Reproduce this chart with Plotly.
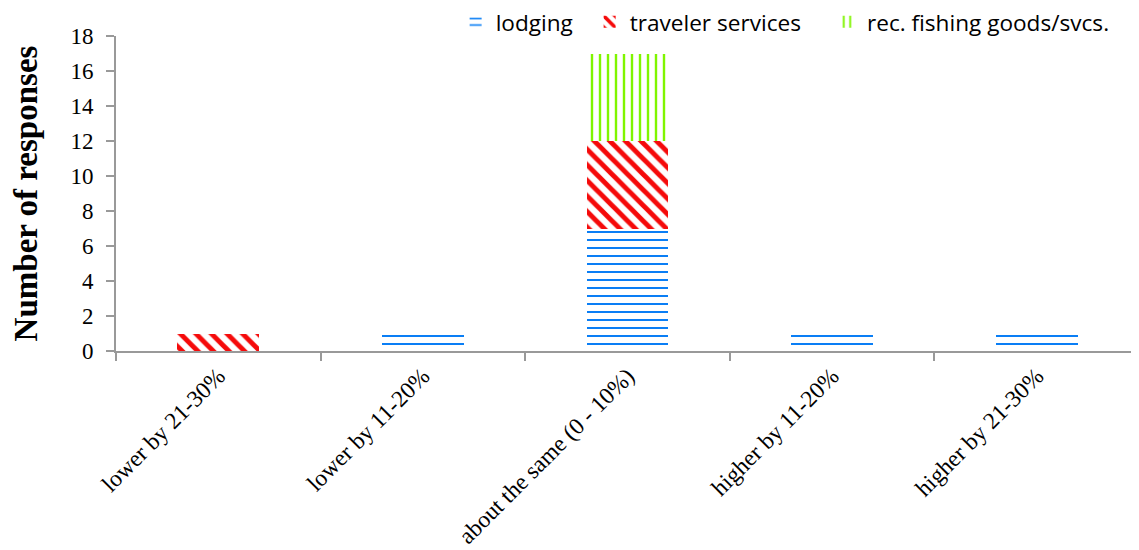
import plotly.graph_objects as go

categories = ["lower by 21-30%", "lower by 11-20%", "about the same (0 - 10%)",
              "higher by 11-20%", "higher by 21-30%"]
lodging = [0, 1, 7, 1, 1]
traveler = [1, 0, 5, 0, 0]
fishing = [0, 0, 5, 0, 0]
y_ticks = [0, 2, 4, 6, 8, 10, 12, 14, 16, 18]

series = [
    ("lodging", lodging, "#0A7EF5", "-", 8, 0.25, "legend", 0.332),
    ("traveler services", traveler, "#F50A0A", "\\", 11, 0.45, "legend2", 0.463),
    ("rec. fishing goods/svcs.", fishing, "#7FF500", "|", 8, 0.3, "legend3", 0.695),
]

fig = go.Figure()
legend_layout = {}
for name, vals, col, shape, size, sol, lg, lx in series:
    fig.add_trace(go.Bar(
        x=categories, y=vals, name=name, width=0.4, legend=lg,
        marker=dict(color="white", line=dict(width=0),
                    pattern=dict(shape=shape, fgcolor=col, bgcolor="white", fgopacity=1,
                                 size=size, solidity=sol, fillmode="replace")),
    ))
    legend_layout[lg] = dict(
        orientation="h", x=lx, xanchor="left", y=1.044, yanchor="middle",
        font=dict(family="Open Sans", size=22.6, color="black"),
        itemwidth=30, bgcolor="rgba(0,0,0,0)")

fig.update_layout(
    barmode="stack",
    width=1131, height=542,
    margin=dict(l=108, r=0, t=28, b=199, autoexpand=False),
    paper_bgcolor="white", plot_bgcolor="white",
    showlegend=True,
    font=dict(family="Liberation Serif", color="black"),
    **legend_layout,
)
fig.update_xaxes(
    type="category", tickangle=-45, tickfont=dict(size=23.5, family="Liberation Serif"),
    showline=True, linecolor="#999999", linewidth=2,
    ticks="outside", tickson="boundaries", ticklen=8, tickcolor="#999999", tickwidth=2,
    showgrid=False,
)
fig.update_yaxes(
    range=[0, 18], tickvals=y_ticks, tickfont=dict(size=23, family="Liberation Serif"),
    showline=True, linecolor="#999999", linewidth=2,
    ticks="outside", ticklen=8, tickcolor="#999999", tickwidth=2, ticklabelstandoff=8,
    showgrid=False, zeroline=False,
    title=dict(text="<b>Number of responses</b>", font=dict(size=33, family="Liberation Serif"),
               standoff=31),
)
fig.write_html("out.html")
